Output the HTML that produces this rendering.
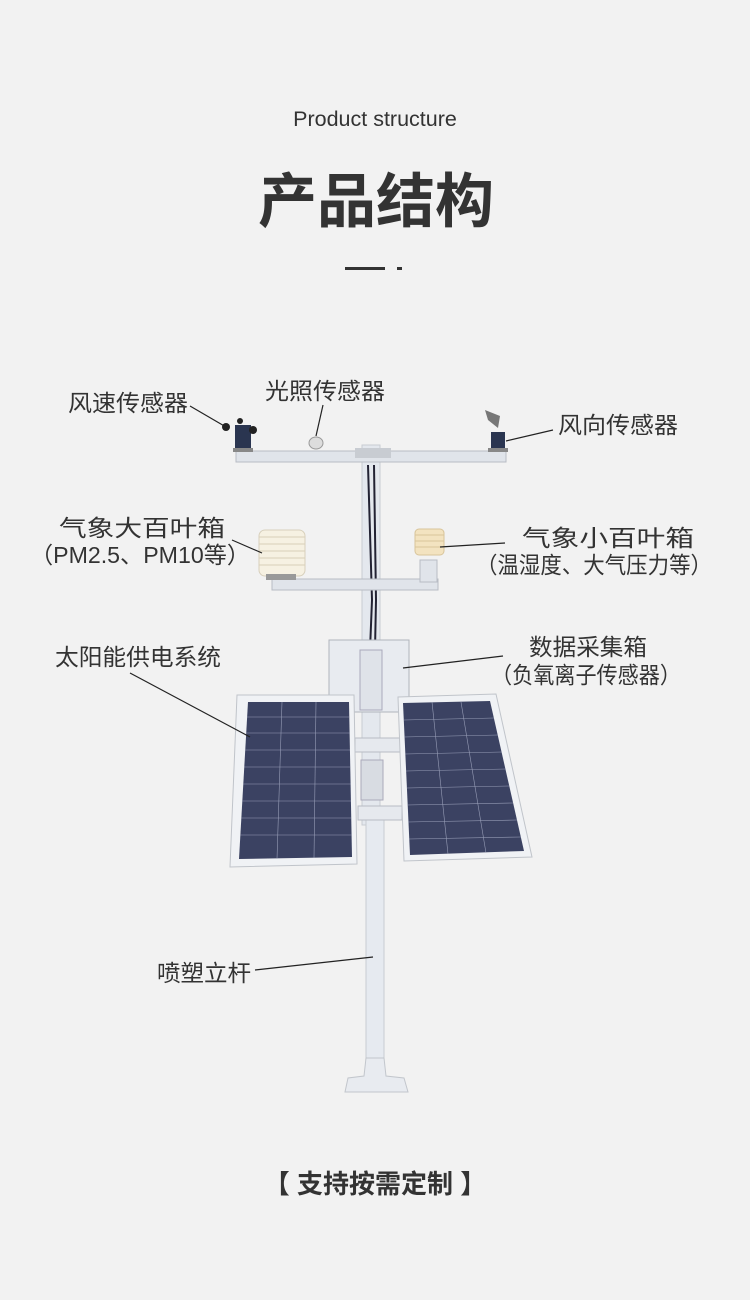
<!DOCTYPE html>
<html><head><meta charset="utf-8"><style>
html,body{margin:0;padding:0;background:#f2f2f2;}
svg{display:block}
text{font-family:"Liberation Sans","Noto Sans CJK SC",sans-serif;fill:#333}
</style></head><body>
<svg width="750" height="1300" viewBox="0 0 750 1300" xmlns="http://www.w3.org/2000/svg">
<rect width="750" height="1300" fill="#f2f2f2"/>
<text x="375" y="126" font-size="21.5" text-anchor="middle">Product structure</text>
<text x="376" y="222" font-size="59" font-weight="bold" text-anchor="middle" fill="#2b2b2b">产品结构</text>
<rect x="345" y="267" width="40" height="3" fill="#333"/>
<rect x="397" y="267" width="5" height="3" fill="#333"/>

<rect x="362" y="445" width="18" height="380" fill="#e4e8ee" stroke="#c8ccd2"/>
<rect x="366" y="820" width="18" height="258" fill="#e6eaf0" stroke="#c8ccd2"/>
<path d="M345 1092 L408 1092 L404 1078 L386 1076 L384 1058 L366 1058 L364 1076 L348 1078 Z" fill="#e8ebf0" stroke="#c2c6cc"/>
<path d="M368 465 L372 600 L368 700" stroke="#223" stroke-width="2" fill="none"/>
<path d="M374 465 L376 600 L374 700" stroke="#223" stroke-width="2" fill="none"/>
<rect x="236" y="451" width="270" height="11" fill="#e0e4ea" stroke="#b8bcc4"/>
<rect x="355" y="448" width="36" height="10" fill="#c8ccd2"/>
<rect x="235" y="425" width="16" height="25" fill="#2a3550"/>
<circle cx="226" cy="427" r="4" fill="#222"/><circle cx="253" cy="430" r="4" fill="#222"/><circle cx="240" cy="421" r="3" fill="#222"/>
<rect x="233" y="448" width="20" height="4" fill="#888"/>
<ellipse cx="316" cy="443" rx="7" ry="6" fill="#ddd" stroke="#999"/>
<rect x="491" y="432" width="14" height="18" fill="#2a3550"/>
<path d="M485 410 L500 416 L498 428 L488 420 Z" fill="#777"/>
<rect x="488" y="448" width="20" height="4" fill="#888"/>
<rect x="272" y="579" width="166" height="11" fill="#e0e4ea" stroke="#b8bcc4"/>
<rect x="420" y="560" width="17" height="22" fill="#e0e4ea" stroke="#b8bcc4"/>
<rect x="259" y="530" width="46" height="46" rx="6" fill="#f6f1e2" stroke="#d8d0bc"/>
<g stroke="#d8cfb8" stroke-width="1">
<line x1="259" y1="537" x2="305" y2="537"/><line x1="259" y1="544" x2="305" y2="544"/><line x1="259" y1="551" x2="305" y2="551"/><line x1="259" y1="558" x2="305" y2="558"/><line x1="259" y1="565" x2="305" y2="565"/></g>
<rect x="266" y="574" width="30" height="6" fill="#999"/>
<rect x="415" y="529" width="29" height="26" rx="4" fill="#f3e3c0" stroke="#d8c49a"/>
<g stroke="#d8c49a"><line x1="415" y1="535" x2="444" y2="535"/><line x1="415" y1="541" x2="444" y2="541"/><line x1="415" y1="547" x2="444" y2="547"/></g>
<rect x="329" y="640" width="80" height="72" fill="#e8ebf0" stroke="#b0b4bc"/>
<rect x="360" y="650" width="22" height="60" fill="#dfe3e9" stroke="#aab"/>
<rect x="355" y="738" width="50" height="14" fill="#e6e9ee" stroke="#b8bcc4"/>
<rect x="358" y="806" width="44" height="14" fill="#e6e9ee" stroke="#b8bcc4"/>
<rect x="361" y="760" width="22" height="40" fill="#d8dce2" stroke="#aab"/>
<path d="M237 695 L354 695 L357 864 L230 867 Z" fill="#f0f2f5" stroke="#c0c4ca"/>
<path d="M248 702 L349 702 L352 857 L239 859 Z" fill="#3b4262"/>
<g stroke="#aeb4cc" stroke-width="0.6" opacity="0.8">
<line x1="282" y1="702" x2="277" y2="859"/><line x1="316" y1="702" x2="314" y2="858"/>
<line x1="247" y1="717" x2="349" y2="717"/><line x1="246" y1="733" x2="350" y2="733"/><line x1="245" y1="750" x2="350" y2="750"/><line x1="244" y1="767" x2="350" y2="767"/><line x1="243" y1="784" x2="351" y2="784"/><line x1="242" y1="801" x2="351" y2="801"/><line x1="241" y1="818" x2="351" y2="818"/><line x1="240" y1="835" x2="352" y2="835"/>
</g>
<path d="M398 697 L496 694 L532 857 L404 861 Z" fill="#f0f2f5" stroke="#c0c4ca"/>
<path d="M403 703 L490 701 L524 851 L410 855 Z" fill="#3b4262"/>
<g stroke="#aeb4cc" stroke-width="0.6" opacity="0.8">
<line x1="432" y1="702" x2="448" y2="854"/><line x1="461" y1="702" x2="486" y2="853"/>
<line x1="404" y1="720" x2="494" y2="718"/><line x1="404" y1="737" x2="498" y2="735"/><line x1="405" y1="754" x2="502" y2="752"/><line x1="406" y1="771" x2="506" y2="769"/><line x1="407" y1="788" x2="509" y2="786"/><line x1="407" y1="805" x2="513" y2="803"/><line x1="408" y1="822" x2="517" y2="820"/><line x1="409" y1="839" x2="521" y2="837"/>
</g>

<g stroke="#222" stroke-width="1.2">
<line x1="190" y1="406" x2="226" y2="427"/>
<line x1="323" y1="405" x2="316" y2="436"/>
<line x1="553" y1="430" x2="506" y2="441"/>
<line x1="232" y1="540" x2="262" y2="553"/>
<line x1="505" y1="543" x2="440" y2="547"/>
<line x1="503" y1="656" x2="403" y2="668"/>
<line x1="130" y1="673" x2="250" y2="737"/>
<line x1="255" y1="970" x2="373" y2="957"/>
</g>

<g font-size="23">
<text x="128" y="411" text-anchor="middle" textLength="120" lengthAdjust="spacingAndGlyphs">风速传感器</text>
<text x="325" y="399" text-anchor="middle" textLength="120" lengthAdjust="spacingAndGlyphs">光照传感器</text>
<text x="618" y="433" text-anchor="middle" textLength="120" lengthAdjust="spacingAndGlyphs">风向传感器</text>
<text x="142" y="536" text-anchor="middle" textLength="166" lengthAdjust="spacingAndGlyphs">气象大百叶箱</text>
<text x="140" y="563" text-anchor="middle" textLength="220" lengthAdjust="spacingAndGlyphs">（PM2.5、PM10等）</text>
<text x="608" y="546" text-anchor="middle" textLength="172" lengthAdjust="spacingAndGlyphs">气象小百叶箱</text>
<text x="594" y="573" text-anchor="middle" textLength="236" lengthAdjust="spacingAndGlyphs">（温湿度、大气压力等）</text>
<text x="138" y="665" text-anchor="middle" textLength="166" lengthAdjust="spacingAndGlyphs">太阳能供电系统</text>
<text x="588" y="655" text-anchor="middle" textLength="118" lengthAdjust="spacingAndGlyphs">数据采集箱</text>
<text x="586" y="683" text-anchor="middle" textLength="190" lengthAdjust="spacingAndGlyphs">（负氧离子传感器）</text>
<text x="204" y="981" text-anchor="middle" textLength="94" lengthAdjust="spacingAndGlyphs">喷塑立杆</text>
</g>
<text x="375" y="1193" font-size="26" font-weight="bold" text-anchor="middle" fill="#2b2b2b">【 支持按需定制 】</text>
</svg>
</body></html>
